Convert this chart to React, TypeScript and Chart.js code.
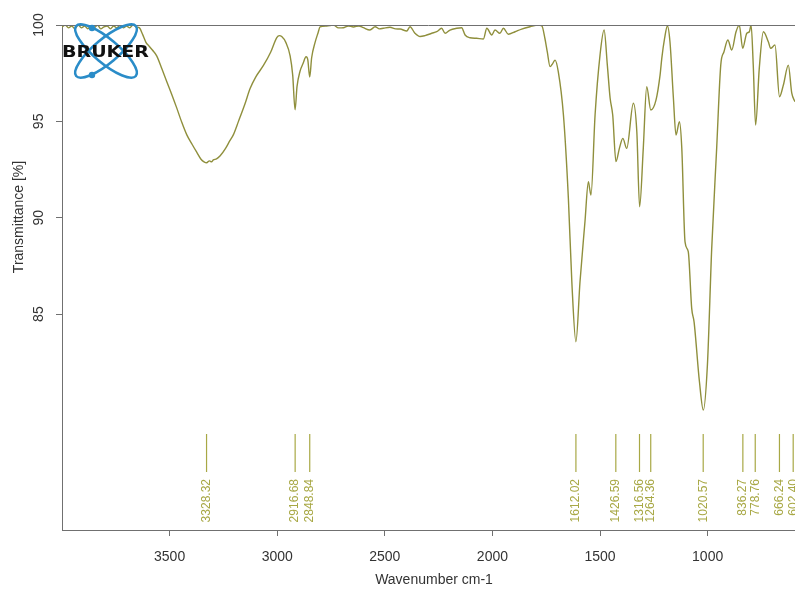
import React, { useEffect, useRef } from "react";
import { Chart, registerables } from "chart.js";
Chart.register(...registerables);

const wavenumbers = [
  4000, 3985, 3970, 3955, 3940, 3925, 3910, 3895, 3880, 3865, 3850, 3835, 3820, 3805, 3790, 3775, 3760, 3745, 3730, 3715,
  3700, 3685, 3670, 3655, 3640, 3625, 3610, 3595, 3580, 3560, 3535, 3513, 3490, 3467, 3445, 3420, 3395, 3374, 3355, 3340,
  3328, 3315, 3305, 3297, 3282, 3266, 3240, 3220, 3204, 3180, 3150, 3126, 3100, 3064, 3030, 3002, 2990, 2979, 2960, 2940,
  2928, 2917, 2908, 2894, 2880, 2866, 2858, 2849, 2840, 2824, 2810, 2801, 2770, 2739, 2715, 2693, 2670, 2646, 2620, 2600,
  2569, 2545, 2525, 2507, 2476, 2450, 2429, 2398, 2383, 2360, 2336, 2313, 2282, 2259, 2236, 2220, 2197, 2166, 2143, 2127,
  2104, 2073, 2042, 2026, 2003, 1988, 1965, 1949, 1926, 1895, 1864, 1825, 1787, 1770, 1756, 1745, 1732, 1720, 1709, 1694,
  1670, 1647, 1631, 1612, 1593, 1570, 1554, 1548, 1542, 1523, 1500, 1481, 1466, 1453, 1441, 1426, 1410, 1394, 1376, 1345,
  1329, 1316, 1299, 1283, 1264, 1240, 1221, 1213, 1200, 1187, 1175, 1159, 1147, 1131, 1120, 1105, 1090, 1074, 1063, 1038,
  1020, 1001, 981, 958, 939, 924, 906, 888, 868, 853, 837, 818, 806, 798, 788, 777, 760, 741, 718, 707,
  687, 666, 648, 625, 609, 594,
];

const transmittance = [
  99.9, 100, 99.85, 99.95, 99.8, 100, 99.85, 99.95, 99.8, 99.95, 99.85, 100, 99.8, 99.9, 99.95, 99.8, 99.95, 99.85, 100, 99.85,
  99.95, 99.85, 100, 99.9, 99.85, 99.5, 99.1, 98.9, 98.7, 98.4, 97.7, 97.06, 96.4, 95.7, 95.0, 94.3, 93.8, 93.4, 93.05, 92.9,
  92.85, 92.95, 92.9, 93.0, 93.05, 93.2, 93.6, 94.0, 94.3, 95.0, 95.9, 96.7, 97.3, 97.9, 98.6, 99.35, 99.45, 99.4, 99.1, 98.4,
  97.4, 95.6, 96.8, 97.6, 98.0, 98.35, 98.2, 97.3, 98.3, 99.1, 99.6, 99.9, 99.95, 100, 99.85, 99.86, 99.95, 99.9, 99.95, 99.86,
  99.74, 99.91, 99.8, 99.83, 99.88, 99.8, 99.79, 99.69, 99.91, 99.57, 99.4, 99.45, 99.57, 99.65, 99.83, 99.57, 99.74, 99.83, 99.86, 99.48,
  99.34, 99.31, 99.27, 99.83, 99.48, 99.74, 99.57, 99.83, 99.52, 99.65, 99.79, 99.91, 100, 99.95, 99.3, 98.6, 97.84, 98.0, 98.18, 97.58,
  95.33, 91.0, 86.68, 83.57, 86.68, 89.79, 91.87, 91.5, 91.18, 95.33, 98.44, 99.74, 97.92, 96.2, 95.33, 92.91, 93.6, 94.12, 93.6, 95.94,
  94.46, 90.57, 93.6, 96.8, 95.59, 96.1, 97.4, 98.27, 99.3, 99.95, 99.13, 96.2, 94.29, 94.98, 93.6, 88.75, 88.24, 85.3, 84.6, 81.49,
  80.02, 82.36, 88.41, 93.6, 97.92, 98.61, 99.22, 98.7, 99.65, 100, 98.79, 99.57, 99.65, 100, 97.92, 94.81, 97.75, 99.65, 99.13, 98.79,
  98.96, 96.28, 96.89, 97.92, 96.46, 96.02,
];

const peakPositions = [3328.32, 2916.68, 2848.84, 1612.02, 1426.59, 1316.56, 1264.36, 1020.57, 836.27, 778.76, 666.24, 602.4];
const peakLabels = ["3328.32", "2916.68", "2848.84", "1612.02", "1426.59", "1316.56", "1264.36", "1020.57", "836.27", "778.76", "666.24", "602.40"];
const xTicks = [3500, 3000, 2500, 2000, 1500, 1000];
const yTicks = [85, 90, 95, 100];
const xTitle = "Wavenumber cm-1";
const yTitle = "Transmittance [%]";
const logoText = "BRUKER";

const FONT = '"Liberation Sans", Arial, sans-serif';
const LINE_COLOR = "#8f8f3c";
const PEAK_COLOR = "#a8a845";
const AXIS_COLOR = "#707070";
const TEXT_COLOR = "#333333";

const overlay = {
  id: "overlay",
  afterDraw(chart: any) {
    const ctx = chart.ctx as CanvasRenderingContext2D;
    const { left, right, top } = chart.chartArea;
    const xs = chart.scales.x;
    const ys = chart.scales.y;
    ctx.save();
    // top frame line
    ctx.strokeStyle = AXIS_COLOR;
    ctx.lineWidth = 1;
    ctx.beginPath();
    ctx.moveTo(left, Math.round(top) + 0.5);
    ctx.lineTo(right, Math.round(top) + 0.5);
    ctx.stroke();

    // x tick labels and title
    ctx.fillStyle = TEXT_COLOR;
    ctx.font = `14px ${FONT}`;
    ctx.textAlign = "center";
    ctx.textBaseline = "middle";
    xTicks.forEach((v) => ctx.fillText(String(v), xs.getPixelForValue(v), 557));
    ctx.fillText(xTitle, 434, 580);

    // y tick labels rotated
    yTicks.forEach((v) => {
      ctx.save();
      ctx.translate(39, ys.getPixelForValue(v));
      ctx.rotate(-Math.PI / 2);
      ctx.fillText(String(v), 0, 0);
      ctx.restore();
    });
    ctx.save();
    ctx.translate(19, 217);
    ctx.rotate(-Math.PI / 2);
    ctx.fillText(yTitle, 0, 0);
    ctx.restore();

    // peak markers
    ctx.strokeStyle = PEAK_COLOR;
    ctx.fillStyle = PEAK_COLOR;
    ctx.lineWidth = 1.2;
    ctx.font = `12px ${FONT}`;
    peakPositions.forEach((p, i) => {
      const px = xs.getPixelForValue(p);
      ctx.beginPath();
      ctx.moveTo(px, 434);
      ctx.lineTo(px, 472);
      ctx.stroke();
      ctx.save();
      ctx.translate(px, 479);
      ctx.rotate(-Math.PI / 2);
      ctx.textAlign = "right";
      ctx.textBaseline = "middle";
      ctx.fillText(peakLabels[i], 0, 0);
      ctx.restore();
    });

    // logo
    const cx = 106, cy = 51;
    ctx.strokeStyle = "#2a8cc8";
    ctx.lineWidth = 2.5;
    [40, -40].forEach((deg) => {
      ctx.beginPath();
      ctx.ellipse(cx, cy, 39, 12, (deg * Math.PI) / 180, 0, Math.PI * 2);
      ctx.stroke();
    });
    ctx.fillStyle = "#2a8cc8";
    [[92, 28], [92, 75]].forEach(([dx, dy]) => {
      ctx.beginPath();
      ctx.arc(dx, dy, 3.2, 0, Math.PI * 2);
      ctx.fill();
    });
    ctx.fillStyle = "#111";
    ctx.font = 'bold 16px "DejaVu Sans", sans-serif';
    ctx.textAlign = "left";
    ctx.textBaseline = "alphabetic";
    const w = ctx.measureText(logoText).width;
    ctx.save();
    ctx.translate(62, 57);
    ctx.scale(87 / w, 1);
    ctx.fillText(logoText, 0, 0);
    ctx.restore();

    ctx.restore();
  },
};

export default function App() {
  const ref = useRef<HTMLCanvasElement>(null);
  useEffect(() => {
    if (!ref.current) return;
    const chart = new Chart(ref.current, {
      type: "line",
      data: {
        datasets: [
          {
            data: wavenumbers.map((w, i) => ({ x: w, y: transmittance[i] })),
            borderColor: LINE_COLOR,
            borderWidth: 1.4,
            pointRadius: 0,
            cubicInterpolationMode: "monotone",
            fill: false,
          },
        ],
      },
      options: {
        animation: false,
        responsive: false,
        maintainAspectRatio: false,
        layout: { padding: { left: 56, top: 25, right: 0, bottom: 54 } },
        plugins: { legend: { display: false }, tooltip: { enabled: false } },
        scales: {
          x: {
            type: "linear",
            reverse: true,
            min: 594,
            max: 4000,
            afterBuildTicks: (s: any) => {
              s.ticks = xTicks.map((v) => ({ value: v }));
            },
            ticks: { display: false },
            grid: { drawOnChartArea: false, drawTicks: true, tickLength: 6, color: AXIS_COLOR },
            border: { display: true, color: AXIS_COLOR, width: 1 },
          },
          y: {
            type: "linear",
            min: 73.8,
            max: 100,
            afterBuildTicks: (s: any) => {
              s.ticks = yTicks.map((v) => ({ value: v }));
            },
            ticks: { display: false },
            grid: { drawOnChartArea: false, drawTicks: true, tickLength: 6, color: AXIS_COLOR },
            border: { display: true, color: AXIS_COLOR, width: 1 },
          },
        },
      },
      plugins: [overlay],
    } as any);
    return () => chart.destroy();
  }, []);
  return (
    <div style={{ position: "fixed", left: 0, top: 0, width: 795, height: 590, background: "#fff" }}>
      <canvas ref={ref} width={795} height={590} style={{ display: "block", width: 795, height: 590 }} />
    </div>
  );
}
